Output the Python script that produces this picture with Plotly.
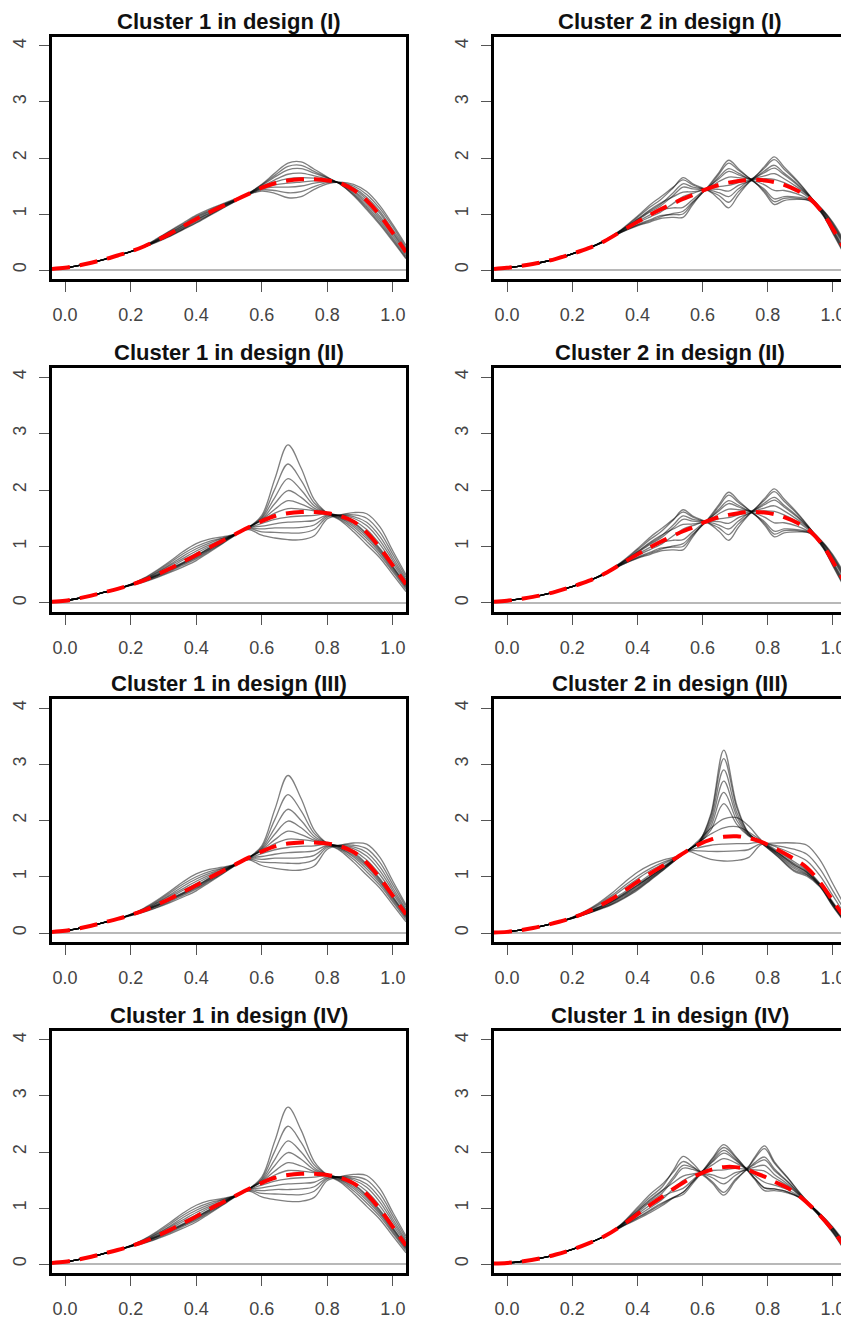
import plotly.graph_objects as go
from plotly.subplots import make_subplots

# ---------------- data ----------------
TITLES = ["Cluster 1 in design (I)", "Cluster 2 in design (I)",
          "Cluster 1 in design (II)", "Cluster 2 in design (II)",
          "Cluster 1 in design (III)", "Cluster 2 in design (III)",
          "Cluster 1 in design (IV)", "Cluster 1 in design (IV)"]

X_TICKS = [0.0, 0.2, 0.4, 0.6, 0.8, 1.0]
Y_TICKS = [0, 1, 2, 3, 4]

XA = [-0.04, 0.00, 0.04, 0.08, 0.12, 0.16, 0.20, 0.24, 0.28, 0.32, 0.36, 0.40, 0.44, 0.48,
      0.52, 0.56, 0.60, 0.64, 0.68, 0.72, 0.76, 0.80, 0.84, 0.88, 0.92, 0.96, 1.00, 1.04]
XB = [-0.04, 0.00, 0.05, 0.10, 0.15, 0.20, 0.25, 0.30, 0.35, 0.40, 0.44, 0.47, 0.51, 0.54,
      0.57, 0.61, 0.65, 0.68, 0.71, 0.75, 0.79, 0.82, 0.85, 0.89, 0.93, 0.97, 1.00, 1.04]
XC = [-0.04, 0.00, 0.04, 0.08, 0.12, 0.16, 0.20, 0.24, 0.28, 0.32, 0.36, 0.40, 0.44, 0.48,
      0.52, 0.555, 0.59, 0.625, 0.665, 0.705, 0.74, 0.78, 0.83, 0.88, 0.92, 0.96, 1.00, 1.04]
XD = [-0.04, 0.00, 0.05, 0.10, 0.15, 0.20, 0.25, 0.30, 0.35, 0.40, 0.44, 0.475, 0.51, 0.54,
      0.57, 0.595, 0.63, 0.665, 0.70, 0.735, 0.76, 0.79, 0.82, 0.86, 0.90, 0.95, 1.00, 1.04]

# Cluster 1, design I
P1_MEAN = [0.02, 0.04, 0.08, 0.13, 0.19, 0.26, 0.33, 0.42, 0.53, 0.65, 0.78, 0.91, 1.03, 1.14,
           1.25, 1.36, 1.47, 1.55, 1.60, 1.62, 1.62, 1.60, 1.55, 1.43, 1.24, 0.98, 0.66, 0.32]
P1_CURVES = [
    [0.02, 0.04, 0.08, 0.13, 0.19, 0.26, 0.33, 0.43, 0.56, 0.70, 0.84, 0.98, 1.09, 1.18, 1.27, 1.35, 1.41, 1.37, 1.29, 1.31, 1.44, 1.54, 1.57, 1.53, 1.40, 1.15, 0.81, 0.44],
    [0.02, 0.04, 0.08, 0.13, 0.19, 0.26, 0.33, 0.43, 0.55, 0.69, 0.82, 0.96, 1.07, 1.17, 1.26, 1.35, 1.43, 1.42, 1.38, 1.40, 1.49, 1.56, 1.56, 1.50, 1.35, 1.10, 0.77, 0.40],
    [0.02, 0.04, 0.08, 0.13, 0.19, 0.26, 0.33, 0.42, 0.54, 0.67, 0.80, 0.94, 1.05, 1.16, 1.26, 1.36, 1.45, 1.48, 1.48, 1.50, 1.55, 1.58, 1.56, 1.47, 1.30, 1.05, 0.72, 0.37],
    [0.02, 0.04, 0.08, 0.13, 0.19, 0.26, 0.33, 0.42, 0.53, 0.66, 0.79, 0.92, 1.04, 1.15, 1.25, 1.36, 1.46, 1.52, 1.55, 1.57, 1.59, 1.59, 1.55, 1.45, 1.26, 1.01, 0.68, 0.34],
    [0.02, 0.04, 0.08, 0.13, 0.19, 0.26, 0.33, 0.42, 0.53, 0.65, 0.77, 0.90, 1.02, 1.14, 1.25, 1.36, 1.48, 1.57, 1.63, 1.65, 1.64, 1.61, 1.55, 1.42, 1.22, 0.96, 0.65, 0.31],
    [0.02, 0.04, 0.08, 0.13, 0.19, 0.26, 0.33, 0.42, 0.52, 0.63, 0.76, 0.89, 1.01, 1.13, 1.24, 1.36, 1.49, 1.61, 1.71, 1.73, 1.68, 1.62, 1.54, 1.40, 1.18, 0.92, 0.61, 0.28],
    [0.02, 0.04, 0.08, 0.13, 0.19, 0.26, 0.33, 0.41, 0.51, 0.62, 0.74, 0.87, 0.99, 1.12, 1.24, 1.37, 1.51, 1.66, 1.79, 1.81, 1.73, 1.64, 1.54, 1.37, 1.14, 0.88, 0.57, 0.25],
    [0.02, 0.04, 0.08, 0.13, 0.19, 0.26, 0.33, 0.41, 0.51, 0.61, 0.73, 0.85, 0.98, 1.11, 1.23, 1.37, 1.52, 1.69, 1.85, 1.87, 1.76, 1.65, 1.53, 1.35, 1.11, 0.84, 0.54, 0.22],
    [0.02, 0.04, 0.08, 0.13, 0.19, 0.26, 0.33, 0.41, 0.50, 0.60, 0.72, 0.84, 0.97, 1.10, 1.23, 1.37, 1.53, 1.73, 1.91, 1.93, 1.80, 1.66, 1.53, 1.33, 1.08, 0.81, 0.51, 0.20],
]

# Cluster 2, designs I and II
P2_MEAN = [0.02, 0.04, 0.08, 0.13, 0.20, 0.29, 0.39, 0.52, 0.69, 0.86, 0.99, 1.08, 1.19, 1.27,
           1.34, 1.44, 1.52, 1.56, 1.59, 1.61, 1.60, 1.57, 1.52, 1.42, 1.27, 1.01, 0.73, 0.32]
P2_CURVES = [
    [0.02, 0.04, 0.08, 0.13, 0.20, 0.29, 0.39, 0.53, 0.71, 0.94, 1.13, 1.25, 1.47, 1.65, 1.54, 1.44, 1.33, 1.21, 1.40, 1.61, 1.82, 1.97, 1.80, 1.58, 1.31, 0.99, 0.69, 0.27],
    [0.02, 0.04, 0.08, 0.13, 0.20, 0.29, 0.39, 0.52, 0.68, 0.81, 0.90, 0.97, 0.99, 1.00, 1.20, 1.44, 1.74, 1.96, 1.81, 1.61, 1.44, 1.27, 1.31, 1.30, 1.25, 1.05, 0.81, 0.42],
    [0.02, 0.04, 0.08, 0.13, 0.20, 0.29, 0.39, 0.52, 0.70, 0.89, 1.04, 1.14, 1.33, 1.48, 1.45, 1.45, 1.66, 1.81, 1.73, 1.63, 1.85, 2.02, 1.84, 1.60, 1.32, 1.01, 0.73, 0.32],
    [0.02, 0.04, 0.08, 0.13, 0.20, 0.29, 0.39, 0.51, 0.67, 0.79, 0.86, 0.92, 0.94, 0.94, 1.17, 1.42, 1.27, 1.11, 1.34, 1.60, 1.68, 1.72, 1.63, 1.48, 1.30, 1.07, 0.85, 0.47],
    [0.02, 0.04, 0.08, 0.13, 0.20, 0.29, 0.39, 0.53, 0.71, 0.91, 1.08, 1.19, 1.31, 1.39, 1.40, 1.45, 1.71, 1.91, 1.78, 1.61, 1.41, 1.22, 1.28, 1.28, 1.23, 0.97, 0.65, 0.22],
    [0.02, 0.04, 0.08, 0.13, 0.20, 0.29, 0.39, 0.52, 0.69, 0.86, 0.99, 1.07, 1.11, 1.12, 1.26, 1.43, 1.44, 1.41, 1.51, 1.61, 1.77, 1.87, 1.73, 1.54, 1.31, 1.03, 0.77, 0.37],
    [0.02, 0.04, 0.08, 0.13, 0.20, 0.29, 0.39, 0.53, 0.72, 0.96, 1.17, 1.30, 1.48, 1.61, 1.52, 1.45, 1.58, 1.66, 1.65, 1.61, 1.52, 1.42, 1.42, 1.36, 1.25, 0.98, 0.67, 0.24],
    [0.02, 0.04, 0.08, 0.13, 0.20, 0.29, 0.39, 0.52, 0.68, 0.84, 0.95, 1.03, 1.19, 1.31, 1.37, 1.43, 1.38, 1.31, 1.45, 1.59, 1.38, 1.17, 1.24, 1.26, 1.24, 1.06, 0.83, 0.44],
    [0.02, 0.04, 0.08, 0.13, 0.20, 0.29, 0.39, 0.51, 0.67, 0.80, 0.88, 0.95, 1.01, 1.05, 1.22, 1.44, 1.63, 1.76, 1.70, 1.62, 1.63, 1.62, 1.56, 1.44, 1.27, 1.00, 0.71, 0.29],
    [0.02, 0.04, 0.08, 0.13, 0.20, 0.29, 0.39, 0.52, 0.70, 0.90, 1.06, 1.17, 1.38, 1.54, 1.48, 1.45, 1.49, 1.51, 1.56, 1.62, 1.74, 1.82, 1.70, 1.52, 1.30, 1.04, 0.79, 0.40],
]

# Cluster 1, designs II, III and IV
P3_MEAN = [0.02, 0.04, 0.08, 0.13, 0.19, 0.25, 0.32, 0.40, 0.50, 0.61, 0.73, 0.85, 0.98, 1.10,
           1.22, 1.34, 1.45, 1.54, 1.59, 1.61, 1.61, 1.59, 1.54, 1.44, 1.25, 0.98, 0.66, 0.33]
P3_CURVES = [
    [0.02, 0.04, 0.08, 0.13, 0.19, 0.25, 0.31, 0.37, 0.45, 0.54, 0.64, 0.75, 0.90, 1.05, 1.20, 1.34, 1.55, 2.20, 2.80, 2.39, 1.83, 1.59, 1.46, 1.26, 1.03, 0.80, 0.50, 0.20],
    [0.02, 0.04, 0.08, 0.13, 0.19, 0.25, 0.31, 0.38, 0.46, 0.56, 0.67, 0.78, 0.92, 1.06, 1.21, 1.34, 1.52, 2.02, 2.46, 2.17, 1.77, 1.59, 1.48, 1.31, 1.09, 0.85, 0.55, 0.24],
    [0.02, 0.04, 0.08, 0.13, 0.19, 0.25, 0.32, 0.39, 0.48, 0.58, 0.69, 0.80, 0.94, 1.08, 1.21, 1.34, 1.50, 1.87, 2.20, 2.00, 1.72, 1.59, 1.50, 1.35, 1.14, 0.89, 0.58, 0.27],
    [0.02, 0.04, 0.08, 0.13, 0.19, 0.25, 0.32, 0.39, 0.48, 0.59, 0.70, 0.82, 0.95, 1.08, 1.21, 1.34, 1.48, 1.76, 1.99, 1.87, 1.68, 1.59, 1.51, 1.38, 1.18, 0.92, 0.61, 0.29],
    [0.02, 0.04, 0.08, 0.13, 0.19, 0.25, 0.32, 0.40, 0.49, 0.60, 0.71, 0.83, 0.97, 1.09, 1.22, 1.34, 1.47, 1.66, 1.81, 1.75, 1.65, 1.59, 1.53, 1.41, 1.21, 0.95, 0.63, 0.31],
    [0.02, 0.04, 0.08, 0.13, 0.19, 0.25, 0.32, 0.40, 0.50, 0.61, 0.72, 0.84, 0.97, 1.10, 1.22, 1.34, 1.46, 1.59, 1.67, 1.66, 1.63, 1.59, 1.53, 1.43, 1.23, 0.97, 0.65, 0.32],
    [0.02, 0.04, 0.08, 0.13, 0.19, 0.25, 0.32, 0.41, 0.51, 0.63, 0.76, 0.88, 1.00, 1.11, 1.22, 1.33, 1.41, 1.48, 1.52, 1.54, 1.55, 1.58, 1.54, 1.46, 1.30, 1.04, 0.70, 0.36],
    [0.02, 0.04, 0.08, 0.13, 0.19, 0.25, 0.32, 0.41, 0.53, 0.66, 0.79, 0.92, 1.03, 1.12, 1.22, 1.33, 1.36, 1.40, 1.43, 1.44, 1.46, 1.56, 1.55, 1.50, 1.37, 1.11, 0.75, 0.39],
    [0.02, 0.04, 0.08, 0.13, 0.19, 0.25, 0.33, 0.42, 0.54, 0.68, 0.83, 0.96, 1.06, 1.14, 1.22, 1.32, 1.31, 1.33, 1.33, 1.34, 1.38, 1.54, 1.55, 1.53, 1.43, 1.18, 0.80, 0.42],
    [0.02, 0.04, 0.08, 0.13, 0.19, 0.25, 0.33, 0.43, 0.56, 0.71, 0.87, 1.00, 1.09, 1.15, 1.22, 1.31, 1.26, 1.25, 1.24, 1.24, 1.30, 1.52, 1.56, 1.56, 1.50, 1.26, 0.86, 0.46],
    [0.02, 0.04, 0.08, 0.13, 0.19, 0.25, 0.33, 0.44, 0.58, 0.74, 0.91, 1.05, 1.13, 1.17, 1.22, 1.30, 1.20, 1.15, 1.12, 1.12, 1.19, 1.49, 1.56, 1.60, 1.58, 1.35, 0.92, 0.50],
]

# Cluster 2, design III
P6_MEAN = [0.01, 0.02, 0.05, 0.09, 0.14, 0.20, 0.27, 0.36, 0.47, 0.60, 0.75, 0.91, 1.06, 1.20,
           1.34, 1.47, 1.58, 1.66, 1.71, 1.72, 1.69, 1.62, 1.48, 1.32, 1.16, 0.90, 0.57, 0.24]
P6_CURVES = [
    [0.01, 0.02, 0.05, 0.09, 0.14, 0.20, 0.26, 0.33, 0.41, 0.50, 0.62, 0.76, 0.94, 1.12, 1.31, 1.47, 1.63, 2.11, 3.25, 2.27, 1.79, 1.60, 1.36, 1.10, 1.01, 0.82, 0.47, 0.16],
    [0.01, 0.02, 0.05, 0.09, 0.14, 0.20, 0.26, 0.33, 0.42, 0.51, 0.63, 0.78, 0.95, 1.13, 1.31, 1.47, 1.63, 2.07, 3.10, 2.22, 1.78, 1.60, 1.37, 1.12, 1.03, 0.83, 0.48, 0.17],
    [0.01, 0.02, 0.05, 0.09, 0.14, 0.20, 0.26, 0.34, 0.42, 0.52, 0.65, 0.79, 0.97, 1.14, 1.32, 1.47, 1.62, 2.01, 2.90, 2.14, 1.77, 1.61, 1.39, 1.15, 1.04, 0.84, 0.49, 0.18],
    [0.01, 0.02, 0.05, 0.09, 0.14, 0.20, 0.26, 0.34, 0.43, 0.54, 0.67, 0.81, 0.98, 1.15, 1.32, 1.47, 1.61, 1.95, 2.70, 2.07, 1.75, 1.61, 1.40, 1.18, 1.06, 0.85, 0.51, 0.19],
    [0.01, 0.02, 0.05, 0.09, 0.14, 0.20, 0.27, 0.35, 0.44, 0.55, 0.68, 0.83, 1.00, 1.16, 1.33, 1.47, 1.61, 1.89, 2.50, 2.00, 1.74, 1.61, 1.42, 1.21, 1.08, 0.86, 0.52, 0.20],
    [0.01, 0.02, 0.05, 0.09, 0.14, 0.20, 0.27, 0.35, 0.45, 0.56, 0.70, 0.85, 1.01, 1.17, 1.33, 1.47, 1.60, 1.83, 2.30, 1.93, 1.73, 1.61, 1.43, 1.24, 1.10, 0.87, 0.53, 0.21],
    [0.01, 0.02, 0.05, 0.09, 0.14, 0.20, 0.27, 0.35, 0.45, 0.56, 0.70, 0.85, 1.01, 1.17, 1.33, 1.47, 1.66, 1.86, 2.03, 2.05, 1.91, 1.65, 1.43, 1.22, 1.08, 0.85, 0.52, 0.20],
    [0.01, 0.02, 0.05, 0.09, 0.14, 0.20, 0.27, 0.36, 0.46, 0.58, 0.73, 0.88, 1.04, 1.19, 1.34, 1.47, 1.62, 1.76, 1.87, 1.89, 1.80, 1.64, 1.46, 1.27, 1.12, 0.88, 0.55, 0.22],
    [0.01, 0.02, 0.05, 0.09, 0.14, 0.20, 0.27, 0.37, 0.49, 0.63, 0.80, 0.96, 1.11, 1.23, 1.35, 1.46, 1.52, 1.56, 1.58, 1.59, 1.59, 1.61, 1.52, 1.40, 1.28, 1.02, 0.66, 0.30],
    [0.01, 0.02, 0.05, 0.09, 0.14, 0.20, 0.28, 0.38, 0.51, 0.66, 0.84, 1.01, 1.15, 1.26, 1.35, 1.46, 1.46, 1.45, 1.45, 1.46, 1.48, 1.59, 1.55, 1.49, 1.40, 1.14, 0.75, 0.36],
    [0.01, 0.02, 0.05, 0.09, 0.14, 0.20, 0.28, 0.39, 0.53, 0.70, 0.90, 1.08, 1.21, 1.30, 1.36, 1.45, 1.38, 1.31, 1.28, 1.29, 1.34, 1.57, 1.60, 1.60, 1.56, 1.30, 0.87, 0.44],
]

# Cluster 1, design IV (right-hand panel)
P8_MEAN = [0.01, 0.02, 0.05, 0.10, 0.17, 0.26, 0.37, 0.50, 0.68, 0.89, 1.06, 1.20, 1.34, 1.45,
           1.55, 1.62, 1.69, 1.73, 1.73, 1.69, 1.63, 1.56, 1.47, 1.36, 1.20, 0.93, 0.60, 0.27]
P8_CURVES = [
    [0.01, 0.02, 0.05, 0.10, 0.17, 0.26, 0.37, 0.50, 0.70, 0.98, 1.20, 1.37, 1.67, 1.92, 1.80, 1.64, 1.47, 1.28, 1.51, 1.69, 1.88, 2.06, 1.80, 1.54, 1.25, 0.92, 0.57, 0.22],
    [0.01, 0.02, 0.05, 0.10, 0.17, 0.26, 0.37, 0.50, 0.67, 0.83, 0.97, 1.09, 1.18, 1.24, 1.44, 1.62, 1.89, 2.13, 1.93, 1.69, 1.51, 1.31, 1.31, 1.27, 1.18, 0.95, 0.66, 0.35],
    [0.01, 0.02, 0.05, 0.10, 0.17, 0.26, 0.37, 0.50, 0.69, 0.92, 1.11, 1.26, 1.51, 1.71, 1.69, 1.65, 1.84, 2.03, 1.88, 1.72, 1.91, 2.11, 1.83, 1.55, 1.26, 0.93, 0.60, 0.27],
    [0.01, 0.02, 0.05, 0.10, 0.17, 0.26, 0.37, 0.50, 0.66, 0.80, 0.92, 1.04, 1.18, 1.28, 1.47, 1.59, 1.44, 1.23, 1.48, 1.68, 1.73, 1.76, 1.60, 1.43, 1.22, 0.95, 0.64, 0.33],
    [0.01, 0.02, 0.05, 0.10, 0.17, 0.26, 0.37, 0.50, 0.70, 0.95, 1.16, 1.31, 1.45, 1.57, 1.61, 1.64, 1.87, 2.08, 1.91, 1.69, 1.53, 1.36, 1.34, 1.29, 1.18, 0.91, 0.55, 0.20],
    [0.01, 0.02, 0.05, 0.10, 0.17, 0.26, 0.37, 0.50, 0.68, 0.89, 1.06, 1.20, 1.29, 1.35, 1.50, 1.61, 1.59, 1.53, 1.63, 1.69, 1.81, 1.91, 1.70, 1.48, 1.24, 0.94, 0.62, 0.30],
    [0.01, 0.02, 0.05, 0.10, 0.17, 0.26, 0.37, 0.50, 0.71, 1.01, 1.25, 1.42, 1.64, 1.83, 1.74, 1.65, 1.77, 1.88, 1.81, 1.69, 1.58, 1.46, 1.41, 1.33, 1.19, 0.92, 0.57, 0.23],
    [0.01, 0.02, 0.05, 0.10, 0.17, 0.26, 0.37, 0.50, 0.67, 0.86, 1.01, 1.15, 1.34, 1.49, 1.58, 1.62, 1.54, 1.43, 1.58, 1.68, 1.53, 1.36, 1.34, 1.29, 1.18, 0.95, 0.64, 0.32],
    [0.01, 0.02, 0.05, 0.10, 0.17, 0.26, 0.37, 0.50, 0.66, 0.82, 0.95, 1.07, 1.19, 1.28, 1.47, 1.62, 1.82, 1.98, 1.86, 1.70, 1.68, 1.66, 1.54, 1.40, 1.21, 0.92, 0.59, 0.25],
    [0.01, 0.02, 0.05, 0.10, 0.17, 0.26, 0.37, 0.50, 0.69, 0.94, 1.14, 1.30, 1.55, 1.76, 1.72, 1.64, 1.67, 1.68, 1.71, 1.70, 1.78, 1.86, 1.67, 1.47, 1.23, 0.94, 0.63, 0.31],
]

PANELS = [
    (XA, P1_MEAN, P1_CURVES), (XB, P2_MEAN, P2_CURVES),
    (XA, P3_MEAN, P3_CURVES), (XB, P2_MEAN, P2_CURVES),
    (XA, P3_MEAN, P3_CURVES), (XC, P6_MEAN, P6_CURVES),
    (XA, P3_MEAN, P3_CURVES), (XD, P8_MEAN, P8_CURVES),
]

# ---------------- layout geometry (pixels in the 849x1321 window) ----------------
OFF = 8                       # page body margin the figure is placed at
W, H = 849 - OFF, 1321 - OFF  # figure size so that it fits the window
COL_PX = [(52, 406), (494, 846)]
ROW_PX = [(37, 279), (368, 612), (699, 942), (1031, 1273)]

fig = make_subplots(rows=4, cols=2)

FONT = "Liberation Sans, Arial, Helvetica, sans-serif"

for i, (xs, mean, curves) in enumerate(PANELS):
    r, c = i // 2 + 1, i % 2 + 1
    for ys in curves:
        fig.add_trace(go.Scatter(x=xs, y=ys, mode="lines", line_shape="spline",
                                 line=dict(color="rgba(0,0,0,0.5)", width=1.3),
                                 hoverinfo="skip", showlegend=False), row=r, col=c)
    fig.add_trace(go.Scatter(x=xs, y=mean, mode="lines", line_shape="spline",
                             line=dict(color="#ff0000", width=4, dash="18px,10px"),
                             hoverinfo="skip", showlegend=False), row=r, col=c)

    x0, x1 = (v - OFF for v in COL_PX[c - 1])
    y0, y1 = (v - OFF for v in ROW_PX[r - 1])
    fig.update_xaxes(row=r, col=c, domain=[x0 / W, x1 / W], range=[-0.04, 1.04],
                     automargin=False,
                     tickvals=X_TICKS, ticktext=[f"{v:.1f}" for v in X_TICKS],
                     showgrid=False, zeroline=False, showline=True, mirror=True,
                     linecolor="black", linewidth=2.5, ticks="outside", ticklen=10,
                     tickwidth=1.2, tickcolor="#555", ticklabelstandoff=8,
                     tickfont=dict(family=FONT, size=18, color="#444"))
    fig.update_yaxes(row=r, col=c, domain=[1 - y1 / H, 1 - y0 / H], range=[-0.16, 4.16],
                     automargin=False,
                     tickvals=Y_TICKS, ticktext=[str(v) for v in Y_TICKS],
                     showgrid=False, zeroline=True, zerolinecolor="#b8b8b8", zerolinewidth=1.5,
                     showline=True, mirror=True, linecolor="black", linewidth=2.5,
                     ticks="outside", ticklen=10, tickwidth=1.2, tickcolor="#555",
                     tickangle=-90, ticklabelstandoff=6,
                     tickfont=dict(family=FONT, size=18, color="#444"))
    fig.add_annotation(text=f"<b>{TITLES[i]}</b>", xref="paper", yref="paper",
                       x=(x0 + x1) / 2 / W, y=1 - (y0 - 16) / H,
                       xanchor="center", yanchor="middle", showarrow=False,
                       font=dict(family=FONT, size=22, color="#111"))

fig.update_layout(width=W, height=H, margin=dict(l=0, r=0, t=0, b=0, autoexpand=False),
                  paper_bgcolor="white", plot_bgcolor="white", showlegend=False)

fig.write_html("out.html")
